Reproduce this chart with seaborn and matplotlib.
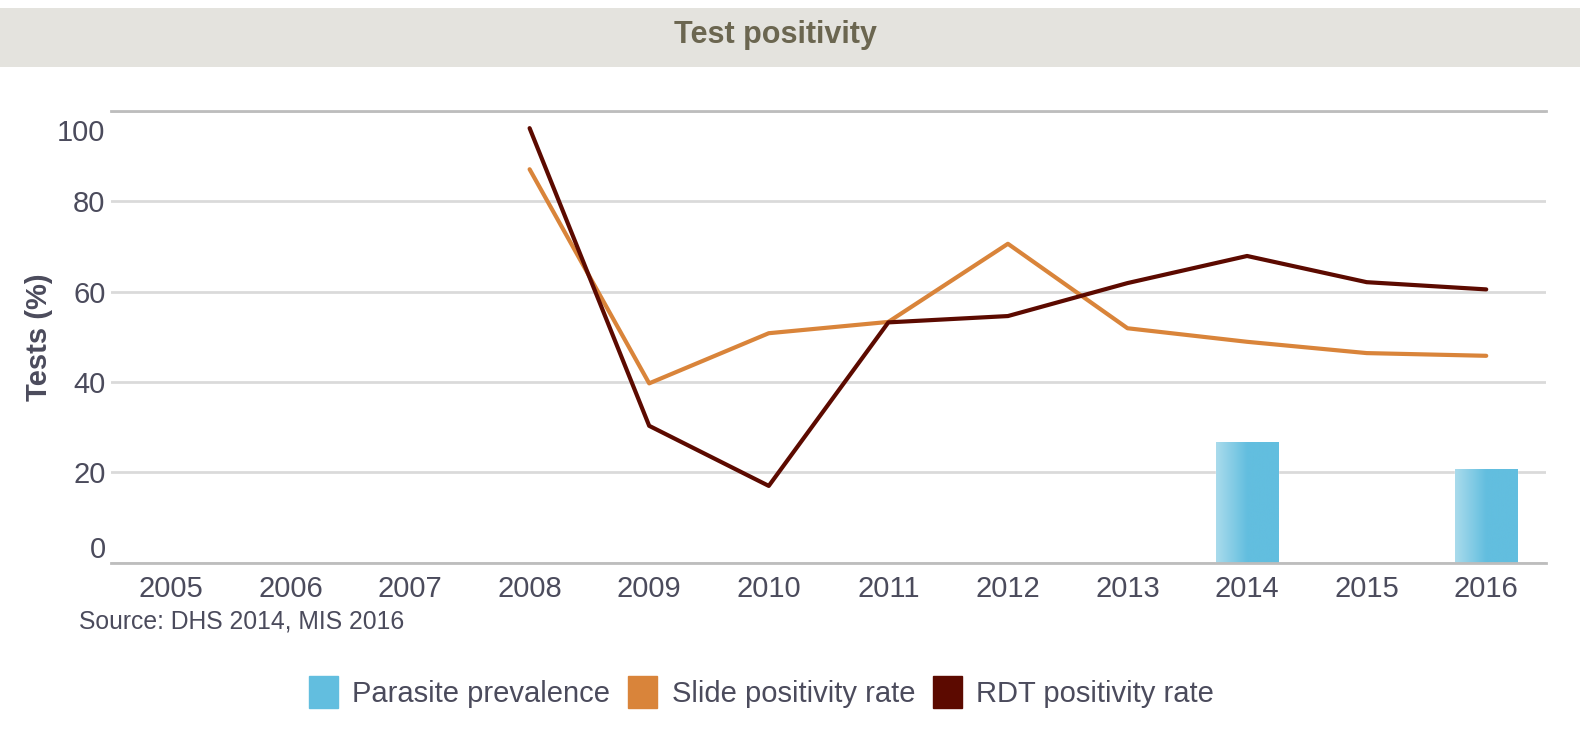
import numpy as np
import pandas as pd
import matplotlib.pyplot as plt
import matplotlib.patches as mpatches
import matplotlib.transforms as mtransforms
import seaborn as sns

years = [2005, 2006, 2007, 2008, 2009, 2010, 2011, 2012, 2013, 2014, 2015, 2016]
parasite = [np.nan, np.nan, np.nan, np.nan, np.nan, np.nan, np.nan, np.nan, np.nan, 26.8, np.nan, 20.7]
slide = [np.nan, np.nan, np.nan, 87.1, 39.7, 50.8, 53.3, 70.6, 51.9, 48.9, 46.4, 45.8]
rdt = [np.nan, np.nan, np.nan, 96.2, 30.3, 17.0, 53.2, 54.6, 61.9, 67.9, 62.1, 60.5]
yticks = [0, 20, 40, 60, 80, 100]

c_bar = "#62bedf"
c_bar_light = "#a9dbec"
c_slide = "#d9843a"
c_rdt = "#5c0a00"
c_text = "#4b4b5c"

sns.set_style("white")
plt.rcParams['font.family'] = ['Liberation Sans', 'DejaVu Sans']

df = pd.DataFrame({"year": years, "parasite": parasite, "slide": slide, "rdt": rdt})

fig = plt.figure(figsize=(15.8, 7.34), dpi=100)
ax = fig.add_axes([0.0703, 0.2334, 0.9785 - 0.0703, 0.8488 - 0.2334])

# title band
fig.patches.append(mpatches.Rectangle((0, 1 - 67 / 734), 1, 59 / 734, transform=fig.transFigure,
                                      facecolor="#e4e3de", edgecolor="none", zorder=0))
fig.text(0.491, 1 - 35 / 734, "Test positivity", ha="center", va="center",
         fontsize=22, fontweight="bold", color="#6b6650")

bars = df.dropna(subset=["parasite"])
sns.barplot(data=bars, x="year", y="parasite", native_scale=True, width=0.26,
            color=c_bar, saturation=1, ax=ax, zorder=2)
# light-to-dark gradient on each bar
grad = np.linspace(0, 1, 100).reshape(1, -1)
cmap = sns.blend_palette([c_bar_light, c_bar, c_bar], as_cmap=True)
for p in ax.patches:
    x0, y0 = p.get_x(), p.get_y()
    im = ax.imshow(grad, extent=[x0, x0 + p.get_width(), y0, y0 + p.get_height()],
                   cmap=cmap, aspect="auto", zorder=2)
    im.set_clip_path(p)

sns.lineplot(data=df, x="year", y="slide", color=c_slide, linewidth=3, ax=ax, zorder=3,
             solid_capstyle="round")
sns.lineplot(data=df, x="year", y="rdt", color=c_rdt, linewidth=3, ax=ax, zorder=4,
             solid_capstyle="round")

ax.set_xlim(2004.5, 2016.5)
ax.set_ylim(0, 100)
ax.set_xticks(years)
ax.set_xticklabels([str(y) for y in years])
ax.set_yticks(yticks)
ax.yaxis.grid(True, color="#dadada", linewidth=2)
ax.set_axisbelow(True)
for s in ["left", "right"]:
    ax.spines[s].set_visible(False)
for s in ["top", "bottom"]:
    ax.spines[s].set_color("#bdbdbd")
    ax.spines[s].set_linewidth(2)
ax.tick_params(axis="both", length=0, labelsize=21, labelcolor=c_text)
ax.tick_params(axis="x", pad=9)
ax.tick_params(axis="y", pad=4)
# end labels sit inside the plot band, like the original
ylabs = ax.get_yticklabels()
ylabs[0].set_transform(ylabs[0].get_transform()
                       + mtransforms.ScaledTranslation(0, 16 / 100, fig.dpi_scale_trans))
ylabs[-1].set_transform(ylabs[-1].get_transform()
                        + mtransforms.ScaledTranslation(0, -19 / 100, fig.dpi_scale_trans))
ax.set_xlabel("")
ax.set_ylabel("Tests (%)", fontsize=21, fontweight="bold", color=c_text, labelpad=3)

fig.text(79 / 1580, 1 - 622 / 734, "Source: DHS 2014, MIS 2016", fontsize=17.8,
         color=c_text, va="center")

handles = [mpatches.Patch(color=c_bar, label="Parasite prevalence"),
           mpatches.Patch(color=c_slide, label="Slide positivity rate"),
           mpatches.Patch(color=c_rdt, label="RDT positivity rate")]
fig.legend(handles=handles, loc="center", bbox_to_anchor=(0.482, 1 - 692 / 734), ncol=3,
           frameon=False, fontsize=21, handlelength=1.0, handleheight=1.3,
           handletextpad=0.5, columnspacing=0.6, labelcolor=c_text)

fig.savefig("out.png", dpi=100)
